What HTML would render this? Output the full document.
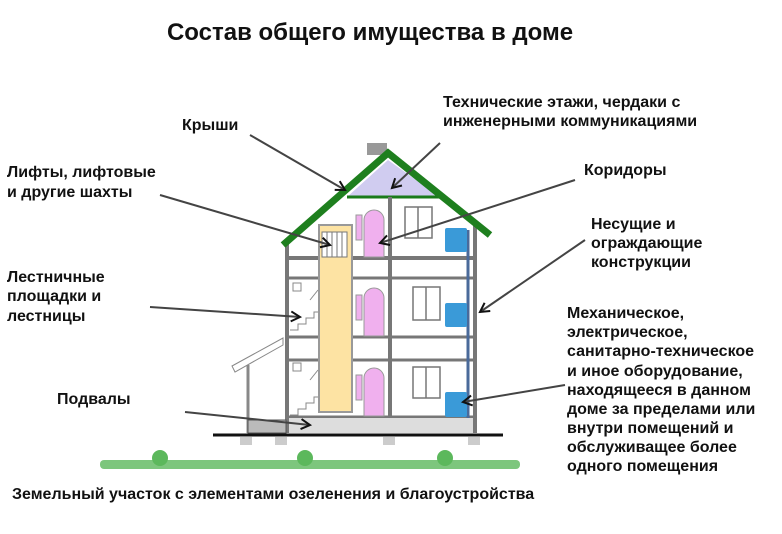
<!DOCTYPE html>
<html><head><meta charset="utf-8"><style>
html,body{margin:0;padding:0;background:#fff;}
svg{display:block;}
text{font-family:"Liberation Sans",Arial,sans-serif;font-weight:bold;fill:#111;font-size:16px;}
</style></head><body>
<svg width="782" height="534" viewBox="0 0 782 534" xmlns="http://www.w3.org/2000/svg">
<defs>
<marker id="ar" markerWidth="12" markerHeight="12" refX="10" refY="6" orient="auto" markerUnits="userSpaceOnUse">
<path d="M1,1 L10,6 L1,11" fill="none" stroke="#111" stroke-width="2"/>
</marker>
</defs>
<text x="370" y="40" text-anchor="middle" style="font-size:24px">Состав общего имущества в доме</text>

<!-- house -->
<rect x="367" y="143" width="20" height="12" fill="#999"/>
<polygon points="347,197 388,160 440,197" fill="#d0ccf0"/>
<line x1="347" y1="197" x2="440" y2="197" stroke="#1a7a1a" stroke-width="3"/>
<g stroke="#777" fill="none">
<line x1="287" y1="240" x2="287" y2="433" stroke-width="4"/>
<line x1="475" y1="225" x2="475" y2="433" stroke-width="4"/>
<line x1="390" y1="197" x2="390" y2="433" stroke-width="4"/>
<line x1="287" y1="258" x2="475" y2="258" stroke-width="4"/>
<line x1="287" y1="278" x2="475" y2="278" stroke-width="3"/>
<line x1="287" y1="337" x2="475" y2="337" stroke-width="3"/>
<line x1="287" y1="360" x2="475" y2="360" stroke-width="3"/>
<line x1="287" y1="417" x2="475" y2="417" stroke-width="3"/>
</g>
<rect x="289" y="418" width="184" height="15" fill="#ddd"/>
<polygon points="232,366 283,338 283,345 235,372" fill="#fff" stroke="#888"/>
<line x1="248" y1="365" x2="248" y2="433" stroke="#888" stroke-width="3"/>
<rect x="248" y="420" width="38" height="13" fill="#bbb" stroke="#555"/>
<g stroke="#888" fill="none">
<path d="M290,330 h8 v-6 h8 v-6 h8 v-6 h4"/>
<path d="M290,415 h8 v-6 h8 v-6 h8 v-6 h4"/>
<path d="M310,300 l8,-10 M310,380 l8,-10"/>
<rect x="293" y="283" width="8" height="8"/><rect x="293" y="363" width="8" height="8"/>
</g>
<rect x="319" y="225" width="33" height="187" fill="#fde3a3" stroke="#999" stroke-width="2"/>
<rect x="322" y="232" width="25" height="25" fill="#fff" stroke="#777"/>
<g stroke="#777"><line x1="327" y1="232" x2="327" y2="257"/><line x1="332" y1="232" x2="332" y2="257"/><line x1="337" y1="232" x2="337" y2="257"/><line x1="342" y1="232" x2="342" y2="257"/></g>
<g fill="#f0b0ee" stroke="#999">
<path d="M364,257 V220 a10,10 0 0 1 20,0 V257 Z"/>
<path d="M364,336 V298 a10,10 0 0 1 20,0 V336 Z"/>
<path d="M364,416 V378 a10,10 0 0 1 20,0 V416 Z"/>
<rect x="356" y="215" width="6" height="25"/><rect x="356" y="295" width="6" height="25"/><rect x="356" y="375" width="6" height="25"/>
</g>
<g fill="#fff" stroke="#777" stroke-width="1.5">
<rect x="405" y="207" width="27" height="31"/><line x1="418" y1="207" x2="418" y2="238"/>
<rect x="413" y="287" width="27" height="33"/><line x1="426" y1="287" x2="426" y2="320"/>
<rect x="413" y="367" width="27" height="31"/><line x1="426" y1="367" x2="426" y2="398"/>
</g>
<line x1="468" y1="230" x2="468" y2="418" stroke="#4a6a9a" stroke-width="3"/>
<g fill="#3a9ad8"><rect x="445" y="228" width="22" height="24" rx="2"/><rect x="445" y="303" width="22" height="24" rx="2"/><rect x="445" y="392" width="22" height="25" rx="2"/></g>
<polyline points="283,245 388,153 490,235" fill="none" stroke="#1e7f1e" stroke-width="7"/>
<line x1="213" y1="435" x2="503" y2="435" stroke="#111" stroke-width="3"/>
<g fill="#ccc"><rect x="240" y="437" width="12" height="8"/><rect x="275" y="437" width="12" height="8"/><rect x="383" y="437" width="12" height="8"/><rect x="468" y="437" width="12" height="8"/></g>
<g fill="#5cb85c">
<rect x="100" y="460" width="420" height="9" rx="4" opacity="0.8"/>
<circle cx="160" cy="458" r="8"/><circle cx="305" cy="458" r="8"/><circle cx="445" cy="458" r="8"/>
</g>

<g stroke="#444" stroke-width="2" marker-end="url(#ar)">
<line x1="250" y1="135" x2="345" y2="190"/>
<line x1="440" y1="143" x2="392" y2="188"/>
<line x1="160" y1="195" x2="330" y2="245"/>
<line x1="575" y1="180" x2="380" y2="243"/>
<line x1="585" y1="240" x2="480" y2="312"/>
<line x1="150" y1="307" x2="300" y2="317"/>
<line x1="565" y1="385" x2="463" y2="402"/>
<line x1="185" y1="412" x2="310" y2="425"/>
</g>

<text x="182" y="130">Крыши</text>
<text x="443" y="107">Технические этажи, чердаки с</text>
<text x="443" y="126">инженерными коммуникациями</text>
<text x="7" y="177">Лифты, лифтовые</text>
<text x="7" y="197">и другие шахты</text>
<text x="584" y="175">Коридоры</text>
<text x="591" y="229">Несущие и</text>
<text x="591" y="248">ограждающие</text>
<text x="591" y="267">конструкции</text>
<text x="7" y="282">Лестничные</text>
<text x="7" y="301">площадки и</text>
<text x="7" y="321">лестницы</text>
<text x="567" y="318">Механическое,</text>
<text x="567" y="337">электрическое,</text>
<text x="567" y="356">санитарно-техническое</text>
<text x="567" y="376">и иное оборудование,</text>
<text x="567" y="395">находящееся в данном</text>
<text x="567" y="414">доме за пределами или</text>
<text x="567" y="433">внутри помещений и</text>
<text x="567" y="452">обслуживащее более</text>
<text x="567" y="471">одного помещения</text>
<text x="57" y="404">Подвалы</text>
<text x="12" y="499">Земельный участок с элементами озеленения и благоустройства</text>
</svg>
</body></html>
